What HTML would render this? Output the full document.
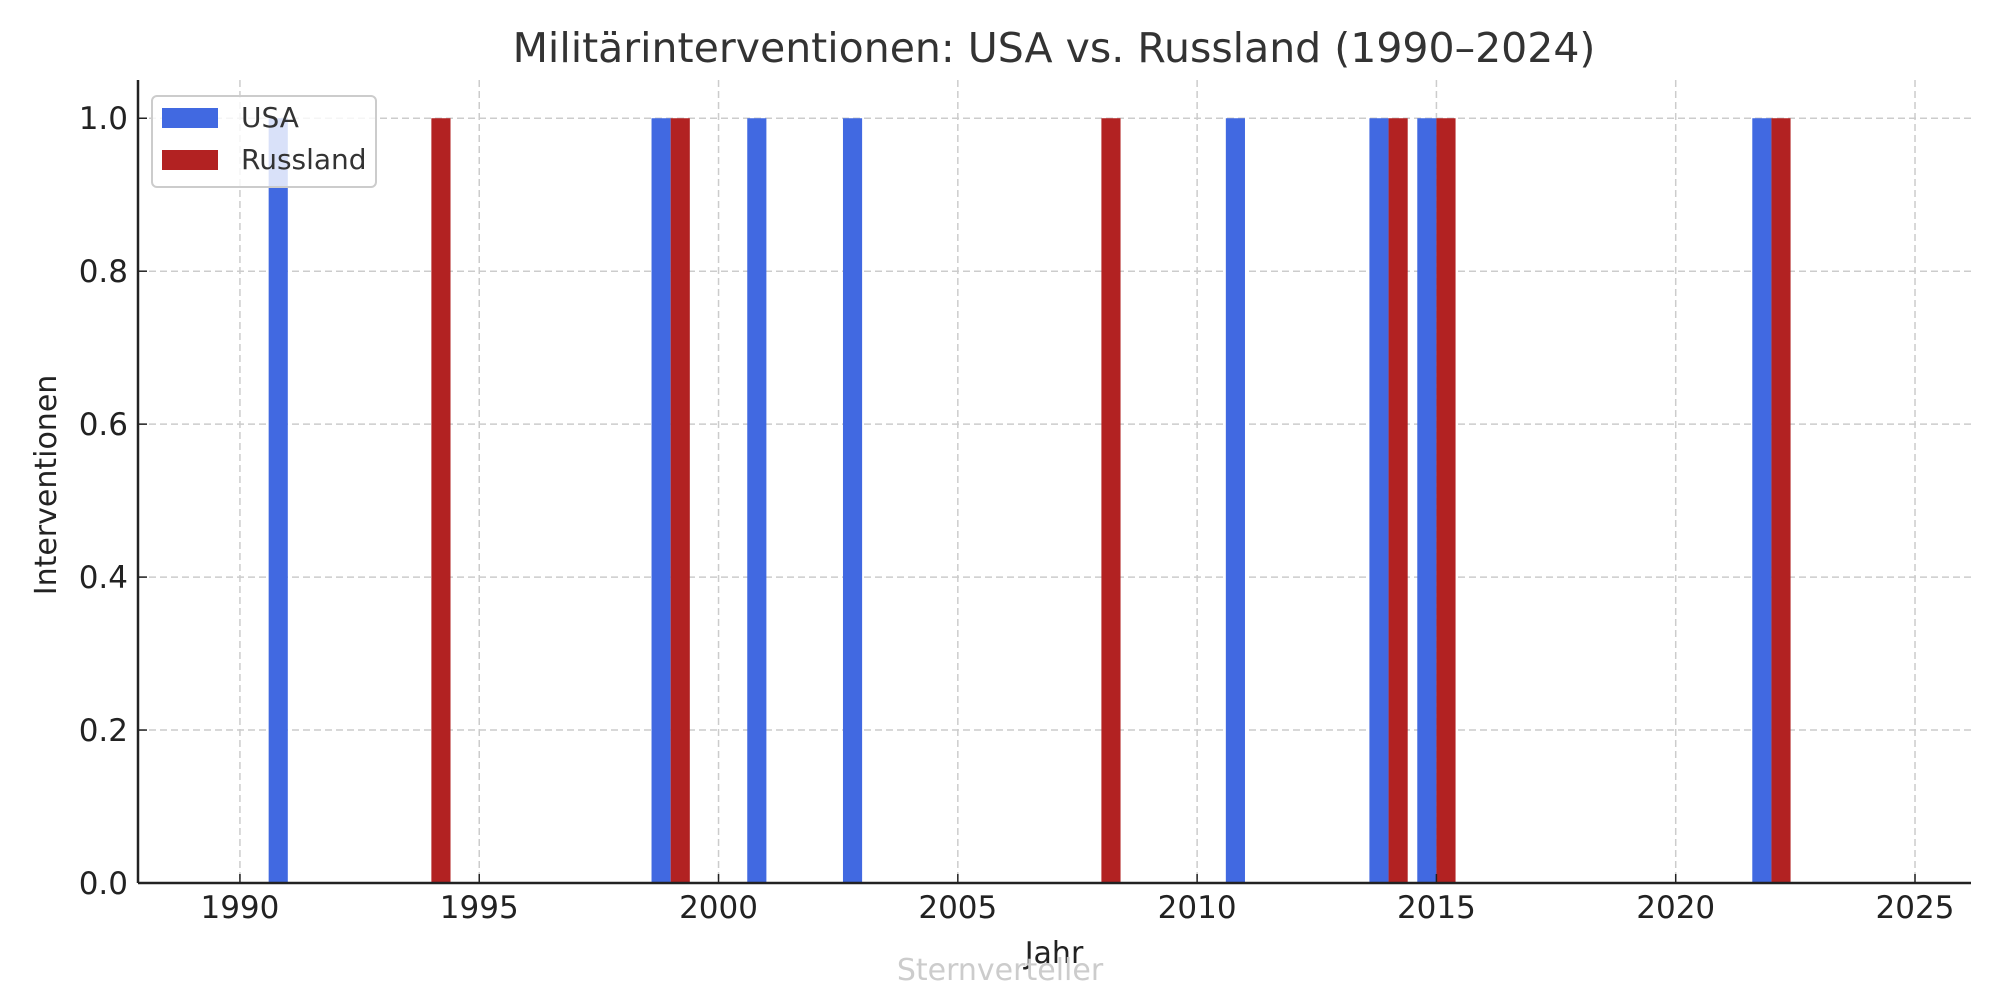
<!DOCTYPE html>
<html><head><meta charset="utf-8"><style>
html,body{margin:0;padding:0;background:#fff;}
svg{display:block;font-family:"DejaVu Sans","Liberation Sans",sans-serif;}
</style></head><body>
<svg id="chart" width="2000" height="1000" viewBox="0 0 2000 1000" xmlns="http://www.w3.org/2000/svg">
<rect width="2000" height="1000" fill="#fff"/>
<g id="grid"></g>
<g id="bars"></g>
<g id="axes"></g>
<text x="1054" y="62" text-anchor="middle" font-size="41" fill="#333">Militärinterventionen: USA vs. Russland (1990–2024)</text>
<text x="1054" y="963" text-anchor="middle" font-size="30" fill="#222">Jahr</text>
<text x="0" y="0" transform="translate(56,485) rotate(-90)" text-anchor="middle" font-size="30" fill="#222">Interventionen</text>
<text x="1000" y="980" text-anchor="middle" font-size="30" fill="#ccc">Sternverteller</text>
<g>
<rect x="152" y="96" width="224" height="91" rx="5" fill="#fff" fill-opacity="0.8" stroke="#ccc" stroke-width="2"/>
<rect x="162" y="108" width="56" height="20" fill="#4169e1"/>
<text x="241" y="127" font-size="28" fill="#333">USA</text>
<rect x="162" y="150" width="56" height="20" fill="#b22222"/>
<text x="241" y="169" font-size="28" fill="#333">Russland</text>
</g>
</svg>
<script>
const usaYears = [1991, 1999, 2001, 2003, 2011, 2014, 2015, 2022];
const usaValues = [1, 1, 1, 1, 1, 1, 1, 1];
const rusYears = [1994, 1999, 2008, 2014, 2015, 2022];
const rusValues = [1, 1, 1, 1, 1, 1];
const xTicks = [1990, 1995, 2000, 2005, 2010, 2015, 2020, 2025];
const yTicks = [0, 0.2, 0.4, 0.6, 0.8, 1.0];
const yTickLabels = ["0.0", "0.2", "0.4", "0.6", "0.8", "1.0"];

const L = 138, R = 1971, T = 80, B = 883;
const X0 = 1987.87, X1 = 2026.17, Y0 = 0, Y1 = 1.05;
const xs = v => L + (v - X0) / (X1 - X0) * (R - L);
const ys = v => B - (v - Y0) / (Y1 - Y0) * (B - T);
const NS = "http://www.w3.org/2000/svg";
function mk(tag, attrs, parent) {
  const e = document.createElementNS(NS, tag);
  for (const k in attrs) e.setAttribute(k, attrs[k]);
  parent.appendChild(e);
  return e;
}
const grid = document.getElementById('grid');
const bars = document.getElementById('bars');
const axes = document.getElementById('axes');

xTicks.forEach(t => {
  const g = mk('line', {x1: xs(t), x2: xs(t), y1: T, y2: B, stroke: '#ccc', 'stroke-width': 1.5, 'stroke-dasharray': '7,4'}, grid);
  
  
  const tk = mk('line', {x1: xs(t), x2: xs(t), y1: B, y2: B - 9, stroke: '#222', 'stroke-width': 1.5}, axes);
  
  
  const lb = mk('text', {x: xs(t), y: B + 35, 'text-anchor': 'middle', 'font-size': 31, fill: '#222'}, axes);
  lb.textContent = t;
  
  
});
yTicks.forEach((t, i) => {
  const g = mk('line', {x1: L, x2: R, y1: ys(t), y2: ys(t), stroke: '#ccc', 'stroke-width': 1.5, 'stroke-dasharray': '7,4'}, grid);
  
  
  const tk = mk('line', {x1: L, x2: L + 9, y1: ys(t), y2: ys(t), stroke: '#222', 'stroke-width': 1.5}, axes);
  
  
  const lb = mk('text', {x: L - 10, y: ys(t) + 11, 'text-anchor': 'end', 'font-size': 31, fill: '#222'}, axes);
  lb.textContent = yTickLabels[i];
  
  
});
function drawBars(years, vals, off, color, name) {
  years.forEach((y, i) => {
    const x0 = xs(y + off - 0.2), x1 = xs(y + off + 0.2);
    const r = mk('rect', {x: x0, y: ys(vals[i]), width: x1 - x0, height: ys(0) - ys(vals[i]), fill: color}, bars);
    
    
  });
}
drawBars(usaYears, usaValues, -0.2, '#4169e1', 'usa');
drawBars(rusYears, rusValues, 0.2, '#b22222', 'russland');
const sl = mk('line', {x1: L, x2: L, y1: T, y2: B, stroke: '#222', 'stroke-width': 2.5}, axes);


const sb = mk('line', {x1: L, x2: R, y1: B, y2: B, stroke: '#222', 'stroke-width': 2.5}, axes);


</script>
</body></html>
